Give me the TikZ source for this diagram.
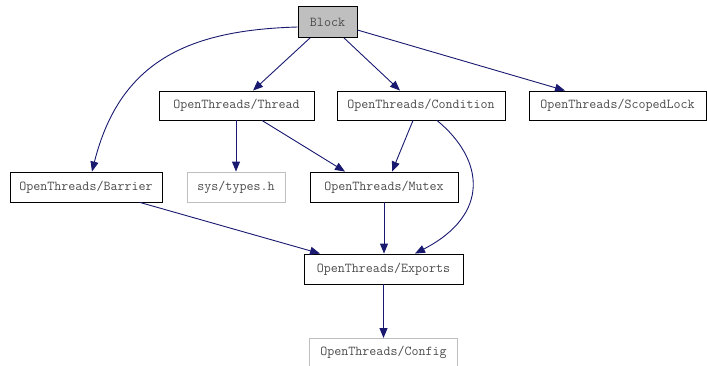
\documentclass[tikz,border=0pt]{standalone}
\usetikzlibrary{arrows.meta}
\definecolor{edgeblue}{HTML}{191970}
\definecolor{boxgray}{HTML}{BFBFBF}
\tikzset{
  modfont/.style={font=\ttfamily\fontsize{13.6}{15}\selectfont, text=black!70},
  modbox/.style={draw=black, line width=0.9pt, fill=white, rectangle, inner sep=0pt, modfont},
  mutedbox/.style={modbox, draw=boxgray},
  rootbox/.style={modbox, fill=boxgray},
  dep/.style={draw=edgeblue, line width=0.9pt,
    -{Triangle[length=10pt,width=8pt]}}
}
\begin{document}
\begin{tikzpicture}[x=1pt,y=-1pt]
\useasboundingbox (0,0) rectangle (707,365);
% modules
\node[rootbox, minimum width=59pt, minimum height=31pt] (block) at (327.5,22) {Block};
\node[modbox, minimum width=155pt, minimum height=29pt] (thread) at (236.5,105.5) {OpenThreads/Thread};
\node[modbox, minimum width=168pt, minimum height=29pt] (cond) at (421,105.5) {OpenThreads/Condition};
\node[modbox, minimum width=177pt, minimum height=29pt] (lock) at (617.5,105.5) {OpenThreads/ScopedLock};
\node[modbox, minimum width=152pt, minimum height=30pt] (barrier) at (86,187) {OpenThreads/Barrier};
\node[mutedbox, minimum width=98pt, minimum height=30pt] (types) at (236,187) {sys/types.h};
\node[modbox, minimum width=148pt, minimum height=30pt] (mutex) at (384,187) {OpenThreads/Mutex};
\node[modbox, minimum width=159pt, minimum height=30pt] (exports) at (383.5,269) {OpenThreads/Exports};
\node[mutedbox, minimum width=148pt, minimum height=30pt, anchor=north] (config) at (383.5,338) {};
\node[modfont] (configlbl) at (383.5,352) {OpenThreads/Config};
% dependencies
\draw[dep] (block.west |- 0,27) .. controls (190,30) and (120,60) .. (barrier.north -| 92,0);
\draw[dep] (block.south -| 310,0) -- (thread.north -| 253,0);
\draw[dep] (block.south -| 344,0) -- (cond.north -| 400,0);
\draw[dep] (block.east |- 0,30) -- (lock.north -| 565,0);
\draw[dep] (thread.south -| types.north) -- (types.north);
\draw[dep] (thread.south -| 262,0) -- (mutex.north -| 345,0);
\draw[dep] (cond.south -| 413,0) -- (mutex.north -| 392,0);
\draw[dep] (cond.south -| 437,0) .. controls (485,160) and (490,215) .. (exports.north -| 415,0);
\draw[dep] (barrier.south -| 140,0) -- (exports.north -| 320,0);
\draw[dep] (mutex.south) -- (exports.north -| mutex.south);
\draw[dep] (exports.south) -- (config.north);
\end{tikzpicture}
\end{document}
